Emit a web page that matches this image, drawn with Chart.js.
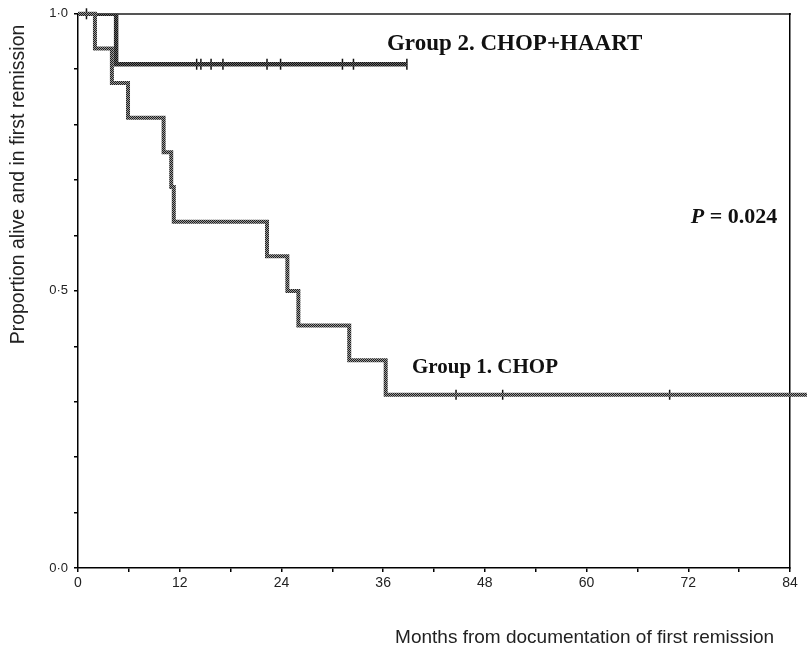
<!DOCTYPE html>
<html>
<head>
<meta charset="utf-8">
<script src="https://cdn.jsdelivr.net/npm/chart.js@4.4.0/dist/chart.umd.min.js"></script>
<style>
  body { margin: 0; background: #fff; }
  canvas { display: block; }
</style>
</head>
<body>
<canvas id="kmChart" width="807" height="653"></canvas>
<script>
// Group 1 (CHOP): step drops, months vs proportion
const g1Months = [0, 2, 4, 5.9, 10.1, 11.0, 11.3, 22.3, 24.7, 26.0, 32.0, 36.3, 86];
const g1Surv = [1, 0.9375, 0.875, 0.8125, 0.75, 0.6875, 0.625, 0.5625, 0.5, 0.4375, 0.375, 0.3125, 0.3125];
const g1CensorMonths = [44.6, 50.1, 69.8];

// Group 2 (CHOP+HAART)
const g2Months = [0, 4.5, 38.8];
const g2Surv = [1, 0.909, 0.909];
const g2CensorMonths = [1.0, 14.0, 14.5, 15.7, 17.1, 22.3, 23.9, 31.2, 32.5, 38.8];

const xTicks = [0, 12, 24, 36, 48, 60, 72, 84];
const yTickLabels = [0, 0.5, 1];

// helper: survival value at a given time
function survAt(months, surv, t) {
  let s = surv[0];
  for (let i = 0; i < months.length; i++) {
    if (months[i] <= t) s = surv[i];
  }
  return s;
}

const g1Points = g1Months.map((m, i) => ({ x: m, y: g1Surv[i] }));
const g2Points = g2Months.map((m, i) => ({ x: m, y: g2Surv[i] }));
const g1Censor = g1CensorMonths.map(m => ({ x: m, y: survAt(g1Months, g1Surv, m) }));
const g2Censor = g2CensorMonths.map(m => ({ x: m, y: survAt(g2Months, g2Surv, m) }));

// checker pattern to look like the scanned dotted lines
function dither(dark, light) {
  const p = document.createElement('canvas');
  p.width = 2; p.height = 2;
  const pc = p.getContext('2d');
  pc.fillStyle = light; pc.fillRect(0, 0, 2, 2);
  pc.fillStyle = dark; pc.fillRect(0, 0, 1, 1); pc.fillRect(1, 1, 1, 1);
  return pc.createPattern(p, 'repeat');
}

// text on the plot
const notes = {
  id: 'notes',
  afterDraw(chart) {
    const c = chart.ctx;
    const x = chart.scales.x, y = chart.scales.y;
    c.save();
    c.fillStyle = '#111';
    c.textBaseline = 'alphabetic';
    c.textAlign = 'left';
    c.font = 'bold 23px "Liberation Serif", "Times New Roman", serif';
    c.fillText('Group 2. CHOP+HAART', x.getPixelForValue(36.45), y.getPixelForValue(0.935));
    c.font = 'bold 21px "Liberation Serif", "Times New Roman", serif';
    c.fillText('Group 1. CHOP', x.getPixelForValue(39.4), y.getPixelForValue(0.3525));
    const px = x.getPixelForValue(72.3), py = y.getPixelForValue(0.622);
    c.font = 'italic bold 22px "Liberation Serif", "Times New Roman", serif';
    c.fillText('P', px, py);
    const w = c.measureText('P').width;
    c.font = 'bold 22px "Liberation Serif", "Times New Roman", serif';
    c.fillText(' = 0.024', px + w, py);
    c.restore();
  }
};

const ctx = document.getElementById('kmChart').getContext('2d');
new Chart(ctx, {
  type: 'line',
  data: {
    datasets: [
      {
        label: 'Group 1. CHOP',
        data: g1Points,
        stepped: true,
        borderColor: dither('#1e1e1e', '#9a9a9a'),
        borderWidth: 4,
        pointRadius: 0,
        fill: false,
        clip: false
      },
      {
        label: 'Group 2. CHOP+HAART',
        data: g2Points,
        stepped: true,
        borderColor: dither('#111', '#666'),
        borderWidth: 4.5,
        pointRadius: 0,
        fill: false
      },
      {
        label: 'censored 1',
        data: g1Censor,
        showLine: false,
        pointStyle: 'line',
        rotation: 90,
        pointRadius: 5,
        borderColor: '#111',
        borderWidth: 1.5
      },
      {
        label: 'censored 2',
        data: g2Censor,
        showLine: false,
        pointStyle: 'line',
        rotation: 90,
        pointRadius: 5.5,
        borderColor: '#111',
        borderWidth: 1.5,
        clip: false
      }
    ]
  },
  options: {
    responsive: false,
    animation: false,
    layout: { padding: 0 },
    plugins: {
      legend: { display: false },
      tooltip: { enabled: false }
    },
    scales: {
      x: {
        type: 'linear',
        position: 'bottom',
        min: 0,
        max: 84,
        afterFit: s => { s.height = 85; },
        ticks: {
          stepSize: 6,
          autoSkip: false,
          maxRotation: 0,
          padding: 3,
          color: '#222',
          font: { family: '"Liberation Sans", Arial, sans-serif', size: 14 },
          callback: v => xTicks.includes(v) ? String(v) : ''
        },
        grid: { drawOnChartArea: false, tickLength: 4, color: '#000', lineWidth: 1.5 },
        border: { color: '#000', width: 1.5 },
        title: {
          display: true,
          text: 'Months from documentation of first remission   ',
          align: 'end',
          color: '#222',
          padding: { top: 0, bottom: 4 },
          font: { family: '"Liberation Sans", Arial, sans-serif', size: 19 }
        }
      },
      x2: {
        type: 'linear',
        position: 'top',
        min: 0,
        max: 84,
        afterFit: s => { s.height = 12; },
        ticks: { display: false },
        grid: { drawOnChartArea: false, drawTicks: false },
        border: { color: '#555', width: 2 }
      },
      y: {
        min: 0,
        max: 1,
        afterFit: s => { s.width = 78; },
        ticks: {
          stepSize: 0.1,
          autoSkip: false,
          padding: 6,
          color: '#222',
          font: { family: '"Liberation Sans", Arial, sans-serif', size: 13 },
          callback: v => yTickLabels.some(t => Math.abs(t - v) < 1e-6) ? v.toFixed(1).replace('.', '\u00b7') : ''
        },
        grid: { drawOnChartArea: false, tickLength: 4, color: '#000', lineWidth: 1.5 },
        border: { color: '#000', width: 1.5 },
        title: {
          display: true,
          text: 'Proportion alive and in first remission  ',
          align: 'end',
          color: '#222',
          padding: { top: 7, bottom: 0 },
          font: { family: '"Liberation Sans", Arial, sans-serif', size: 19.5 }
        }
      },
      y2: {
        position: 'right',
        min: 0,
        max: 1,
        afterFit: s => { s.width = 17; },
        ticks: { display: false },
        grid: { drawOnChartArea: false, drawTicks: false },
        border: { color: '#000', width: 1.5 }
      }
    }
  },
  plugins: [notes]
});
</script>
</body>
</html>
